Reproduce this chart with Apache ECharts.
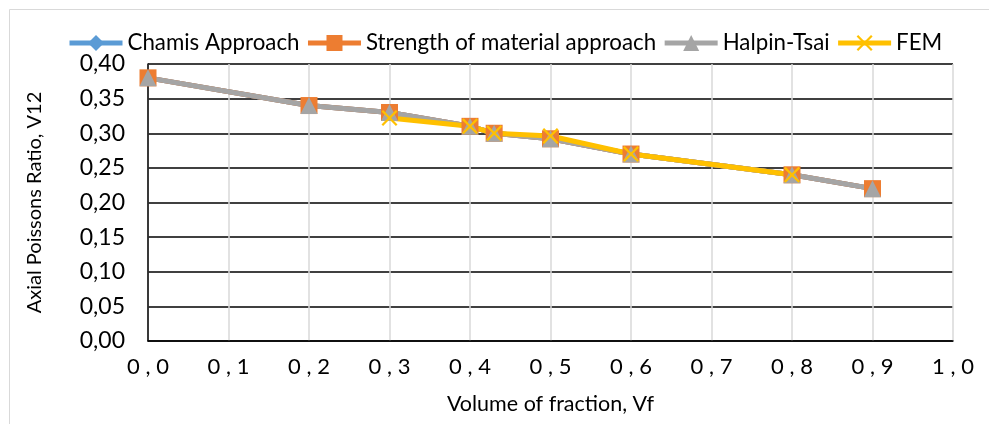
<!DOCTYPE html>
<html>
<head>
<meta charset="utf-8">
<script src="https://cdn.jsdelivr.net/npm/echarts@6/dist/echarts.min.js"></script>
<style>
html,body{margin:0;padding:0;background:#fff;}
#c{width:989px;height:424px;}
</style>
</head>
<body>
<div id="c"></div>
<script>
const seriesNames = ['Chamis Approach', 'Strength of material approach', 'Halpin-Tsai', 'FEM'];
const xVals = [0, 0.2, 0.3, 0.4, 0.43, 0.5, 0.6, 0.8, 0.9];
const chamis = [0.38, 0.34, 0.33, 0.31, 0.30, 0.292, 0.27, 0.24, 0.22];
const strength = [0.38, 0.34, 0.33, 0.31, 0.30, 0.292, 0.27, 0.24, 0.22];
const halpin = [0.38, 0.34, 0.33, 0.31, 0.30, 0.292, 0.27, 0.24, 0.22];
const femX = [0.3, 0.4, 0.43, 0.5, 0.6, 0.8];
const fem = [0.322, 0.31, 0.30, 0.296, 0.27, 0.24];
const xTickLabels = ['0 , 0','0 , 1','0 , 2','0 , 3','0 , 4','0 , 5','0 , 6','0 , 7','0 , 8','0 , 9','1 , 0'];
const yTickLabels = ['0,00','0,05','0,10','0,15','0,20','0,25','0,30','0,35','0,40'];

const FONT = 'Lato';
const pair = (xs, ys) => xs.map((x, i) => [x, ys[i]]);
const crossPath = 'path://M0,1L1,0L5,4L9,0L10,1L6,5L10,9L9,10L5,6L1,10L0,9L4,5Z';

const chart = echarts.init(document.getElementById('c'));
chart.setOption({
  animation: false,
  backgroundColor: '#fff',
  textStyle: { fontFamily: FONT },
  graphic: [{
    type: 'rect', left: 7, top: 7, z: -10,
    shape: { x: 0, y: 0, width: 1000, height: 416 },
    style: { fill: 'none', stroke: '#d9d9d9', lineWidth: 1 }
  }],
  legend: {
    top: 27, left: 62,
    itemWidth: 53, itemHeight: 20, itemGap: 6,
    lineStyle: { width: 5 },
    textStyle: { fontFamily: FONT, fontSize: 22.3, color: '#000' },
    data: seriesNames
  },
  grid: { left: 148, right: 36, top: 64, bottom: 83 },
  xAxis: {
    type: 'value', min: 0, max: 1, interval: 0.1,
    name: 'Volume of fraction, Vf', nameLocation: 'middle', nameGap: 52,
    nameTextStyle: { fontFamily: FONT, fontSize: 21.5, color: '#000' },
    axisLine: { lineStyle: { color: '#000', width: 1.5 } },
    axisTick: { show: false },
    axisLabel: { margin: 15, fontFamily: FONT, fontSize: 22, color: '#000',
      formatter: v => xTickLabels[Math.round(v * 10)] },
    splitLine: { show: true, lineStyle: { color: '#d9d9d9', width: 1.5 } }
  },
  yAxis: {
    type: 'value', min: 0, max: 0.4, interval: 0.05,
    name: 'Axial Poissons Ratio, V12', nameLocation: 'middle', nameGap: 103, nameRotate: 90,
    nameTextStyle: { fontFamily: FONT, fontSize: 20, color: '#000' },
    axisLine: { show: true, lineStyle: { color: '#000', width: 1.5 } },
    axisTick: { show: false },
    axisLabel: { margin: 23, fontFamily: FONT, fontSize: 23, color: '#000',
      formatter: v => yTickLabels[Math.round(v * 20)] },
    splitLine: { show: true, lineStyle: { color: '#000', width: 1.5 } }
  },
  series: [
    { name: seriesNames[0], type: 'line', data: pair(xVals, chamis),
      symbol: 'diamond', symbolSize: 15,
      lineStyle: { color: '#5B9BD5', width: 5 }, itemStyle: { color: '#5B9BD5' } },
    { name: seriesNames[1], type: 'line', data: pair(xVals, strength),
      symbol: 'rect', symbolSize: 17,
      lineStyle: { color: '#ED7D31', width: 5 }, itemStyle: { color: '#ED7D31' } },
    { name: seriesNames[2], type: 'line', data: pair(xVals, halpin),
      symbol: 'triangle', symbolSize: 17,
      lineStyle: { color: '#A5A5A5', width: 5 }, itemStyle: { color: '#A5A5A5' } },
    { name: seriesNames[3], type: 'line', data: pair(femX, fem),
      symbol: crossPath, symbolSize: 16,
      lineStyle: { color: '#FFC000', width: 5 }, itemStyle: { color: '#FFC000' } }
  ]
});
</script>
</body>
</html>
